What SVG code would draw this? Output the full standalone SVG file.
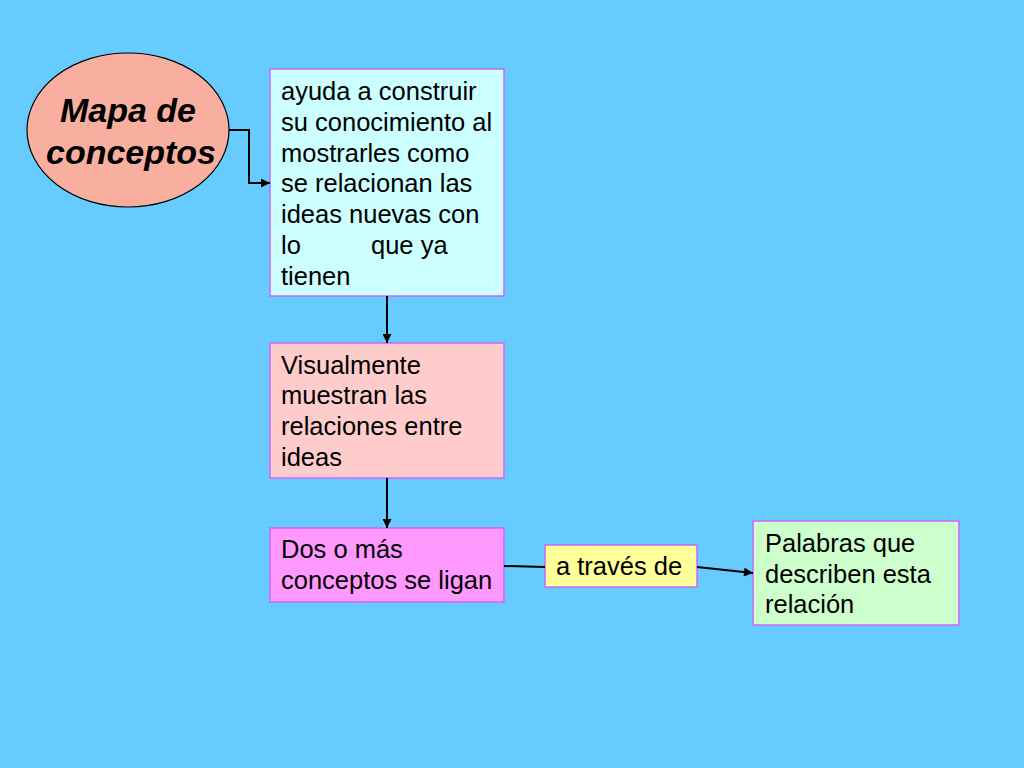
<svg xmlns="http://www.w3.org/2000/svg" width="1024" height="768" viewBox="0 0 1024 768">
<defs>
<style>
.box{stroke:#CC66FF;stroke-width:1.5}
.t{font-family:"Liberation Sans",Arial,sans-serif;font-size:25.5px;fill:#000}
.title{font-family:"Liberation Sans",Arial,sans-serif;font-size:34px;font-weight:bold;font-style:italic;fill:#000}
.conn{stroke:#000;stroke-width:2;fill:none}
</style>
<marker id="arr" viewBox="0 0 10 10" refX="10" refY="5" markerWidth="10" markerHeight="9" orient="auto" markerUnits="userSpaceOnUse">
<path d="M0,0 L10,5 L0,10 z" fill="#000"/>
</marker>
</defs>
<rect width="1024" height="768" fill="#66CCFF"/>
<g id="mapa">
<ellipse cx="128" cy="130" rx="101" ry="77" fill="#F9AF9F" stroke="#000" stroke-width="1.2"/>
<text class="title" x="60" y="122">Mapa de</text>
<text class="title" x="46" y="164">conceptos</text>
</g>
<g id="ayuda">
<rect class="box" x="270" y="69" width="234" height="227" fill="#CCFFFF"/>
<text class="t" x="281" y="100">ayuda a construir</text>
<text class="t" x="281" y="131">su conocimiento al</text>
<text class="t" x="281" y="162">mostrarles como</text>
<text class="t" x="281" y="192">se relacionan las</text>
<text class="t" x="281" y="223">ideas nuevas con</text>
<text class="t" x="281" y="254">lo</text>
<text class="t" x="371" y="254">que ya</text>
<text class="t" x="281" y="285">tienen</text>
</g>
<g id="visual">
<rect class="box" x="270" y="343" width="234" height="135" fill="#FFCCCC"/>
<text class="t" x="281" y="374">Visualmente</text>
<text class="t" x="281" y="404">muestran las</text>
<text class="t" x="281" y="435">relaciones entre</text>
<text class="t" x="281" y="466">ideas</text>
</g>
<g id="dos">
<rect class="box" x="270" y="528" width="234" height="74" fill="#FF99FF"/>
<text class="t" x="281" y="558">Dos o más</text>
<text class="t" x="281" y="589">conceptos se ligan</text>
</g>
<g id="traves">
<rect class="box" x="545" y="545" width="152" height="42" fill="#FFFF99"/>
<text class="t" x="556" y="575">a través de</text>
</g>
<g id="palabras">
<rect class="box" x="753" y="521" width="206" height="104" fill="#CCFFCC"/>
<text class="t" x="765" y="552">Palabras que</text>
<text class="t" x="765" y="583">describen esta</text>
<text class="t" x="765" y="613">relación</text>
</g>
<g id="connectors">
<polyline class="conn" points="229,130 249,130 249,183 270,183" marker-end="url(#arr)"/>
<line class="conn" x1="387" y1="296" x2="387" y2="343" marker-end="url(#arr)"/>
<line class="conn" x1="387" y1="478" x2="387" y2="528" marker-end="url(#arr)"/>
<line class="conn" x1="504" y1="566" x2="545" y2="567"/>
<line class="conn" x1="697" y1="567" x2="753" y2="573" marker-end="url(#arr)"/>
</g>
</svg>
